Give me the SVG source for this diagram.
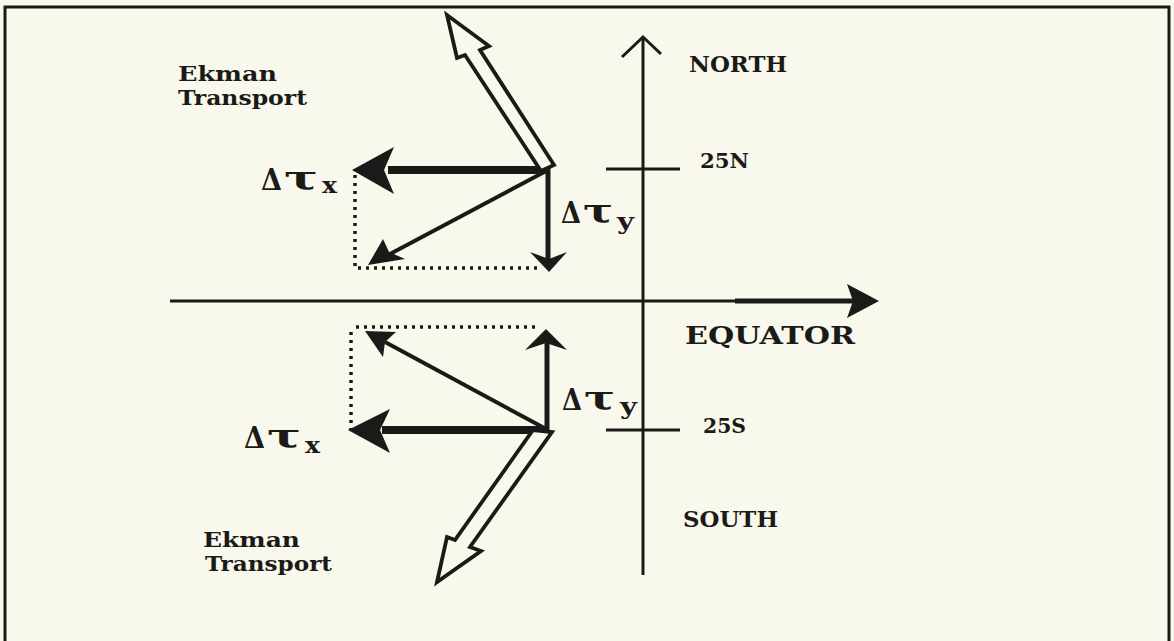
<svg xmlns="http://www.w3.org/2000/svg" width="1174" height="641" viewBox="0 0 1174 641">
<style>
.lbl{font-family:"DejaVu Serif","Liberation Serif",serif;font-weight:bold;fill:#1c1a18}
.sym{font-family:"DejaVu Serif","Liberation Serif",serif;font-weight:bold;fill:#1c1a18}
.ln{stroke:#1c1a18;fill:none}
.fill{fill:#1c1a18;stroke:none}
.hollow{fill:#f8f8ec;stroke:#1c1a18;stroke-width:3.8;stroke-linejoin:miter}
.dot{stroke:#1c1a18;stroke-width:3.5;stroke-dasharray:3 5;fill:none}
</style>
<rect x="0" y="0" width="1174" height="641" fill="#f8f8ec"/>
<path d="M5,645 V7 H1169 V645" class="ln" stroke-width="3"/>

<g id="axes">
  <line x1="643" y1="37" x2="643" y2="575" class="ln" stroke-width="3"/>
  <polyline points="622,57 643,37 661,54" class="ln" stroke-width="3"/>
  <line x1="170" y1="301" x2="735" y2="301" class="ln" stroke-width="3"/>
  <line x1="735" y1="301" x2="855" y2="301" class="ln" stroke-width="5"/>
  <path d="M847,284 L879,301 L847,318 L853,301 Z" class="fill"/>
  <line x1="606" y1="169" x2="680" y2="169" class="ln" stroke-width="3"/>
  <line x1="606" y1="430" x2="680" y2="430" class="ln" stroke-width="3"/>
</g>

<g id="connectors">
  <!-- upper set -->
  <line x1="548" y1="170" x2="388" y2="170" class="ln" stroke-width="8"/>
  <path d="M352,170 L394,147 L384,170 L394,194 Z" class="fill"/>
  <line x1="548" y1="168" x2="548" y2="260" class="ln" stroke-width="5"/>
  <path d="M549,272 L530,252 L549,259 L567,252 Z" class="fill"/>
  <line x1="548" y1="170" x2="390" y2="254" class="ln" stroke-width="4"/>
  <path d="M368,265 L383,239 L389,252 L405,259 Z" class="fill"/>
  <line x1="355" y1="175" x2="355" y2="268" class="dot"/>
  <line x1="358" y1="268" x2="538" y2="268" class="dot"/>
  <polygon points="447,15 457,58 465,55 541,171 554,165 480,50 489,46" class="hollow"/>

  <!-- lower set -->
  <line x1="548" y1="430" x2="382" y2="430" class="ln" stroke-width="8"/>
  <path d="M348,430 L390,409 L380,430 L390,453 Z" class="fill"/>
  <line x1="547" y1="432" x2="547" y2="340" class="ln" stroke-width="5"/>
  <path d="M546,329 L525,350 L546,343 L567,350 Z" class="fill"/>
  <line x1="548" y1="430" x2="385" y2="342" class="ln" stroke-width="4"/>
  <path d="M365,331 L396,332 L385,342 L383,357 Z" class="fill"/>
  <line x1="356" y1="327" x2="538" y2="327" class="dot"/>
  <line x1="351" y1="332" x2="351" y2="436" class="dot"/>
  <polygon points="437,582 447,537 455,540 533,430 552,432 470,547 481,551" class="hollow"/>
</g>

<g id="labels">
  <text class="lbl" x="178" y="81" font-size="20" textLength="99" lengthAdjust="spacingAndGlyphs">Ekman</text>
  <text class="lbl" x="178" y="105" font-size="20" textLength="129" lengthAdjust="spacingAndGlyphs">Transport</text>
  <text class="lbl" x="203" y="547" font-size="20" textLength="97" lengthAdjust="spacingAndGlyphs">Ekman</text>
  <text class="lbl" x="205" y="571" font-size="20" textLength="127" lengthAdjust="spacingAndGlyphs">Transport</text>
  <text class="lbl" x="689" y="72" font-size="23" textLength="98" lengthAdjust="spacingAndGlyphs">NORTH</text>
  <text class="lbl" x="700" y="168" font-size="20" textLength="49" lengthAdjust="spacingAndGlyphs">25N</text>
  <text class="lbl" x="685" y="344" font-size="25" textLength="170" lengthAdjust="spacingAndGlyphs">EQUATOR</text>
  <text class="lbl" x="703" y="433" font-size="20" textLength="43" lengthAdjust="spacingAndGlyphs">25S</text>
  <text class="lbl" x="683" y="527" font-size="23" textLength="95" lengthAdjust="spacingAndGlyphs">SOUTH</text>
</g>

<g id="stress-labels">
  <text class="sym" x="261" y="190" font-size="29" textLength="21" lengthAdjust="spacingAndGlyphs">Δ</text>
  <text class="sym" x="284" y="190" font-size="34" textLength="34" lengthAdjust="spacingAndGlyphs">τ</text>
  <text class="sym" x="322" y="193" font-size="22" textLength="15" lengthAdjust="spacingAndGlyphs">x</text>

  <text class="sym" x="244" y="448" font-size="29" textLength="21" lengthAdjust="spacingAndGlyphs">Δ</text>
  <text class="sym" x="267" y="448" font-size="34" textLength="34" lengthAdjust="spacingAndGlyphs">τ</text>
  <text class="sym" x="305" y="453" font-size="22" textLength="15" lengthAdjust="spacingAndGlyphs">x</text>

  <text class="sym" x="561" y="223" font-size="29" textLength="20" lengthAdjust="spacingAndGlyphs">Δ</text>
  <text class="sym" x="583" y="223" font-size="34" textLength="30" lengthAdjust="spacingAndGlyphs">τ</text>
  <text class="sym" x="617" y="229" font-size="22" textLength="17" lengthAdjust="spacingAndGlyphs">y</text>

  <text class="sym" x="562" y="410" font-size="29" textLength="20" lengthAdjust="spacingAndGlyphs">Δ</text>
  <text class="sym" x="584" y="410" font-size="34" textLength="31" lengthAdjust="spacingAndGlyphs">τ</text>
  <text class="sym" x="620" y="414" font-size="22" textLength="17" lengthAdjust="spacingAndGlyphs">y</text>
</g>
</svg>
